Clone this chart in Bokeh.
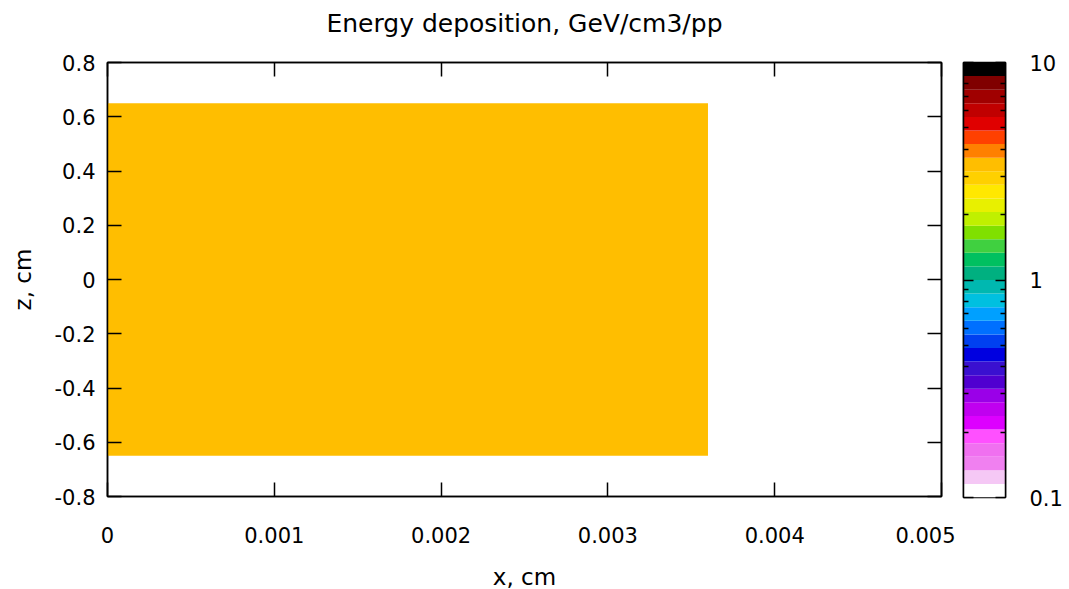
import numpy as np
from bokeh.plotting import figure
from bokeh.layouts import row
from bokeh.models import (LinearAxis, LogAxis, FixedTicker, CustomJSTickFormatter,
                          Range1d, ColumnDataSource)
from bokeh.transform import log_cmap
from bokeh.embed import file_html
from bokeh.resources import INLINE

# ---- data ----
x_left = [0.0]
x_right = [0.0036]
z_bottom = [-0.65]
z_top = [0.65]
edep = [3.4]  # GeV/cm3/pp

x_ticks = [0, 0.001, 0.002, 0.003, 0.004, 0.005]
z_ticks = [-0.8, -0.6, -0.4, -0.2, 0, 0.2, 0.4, 0.6, 0.8]
cb_major = [0.1, 1, 10]
cb_minor = [0.2, 0.3, 0.4, 0.5, 0.6, 0.7, 0.8, 0.9, 2, 3, 4, 5, 6, 7, 8, 9]
title_text = "Energy deposition, GeV/cm3/pp"

# stepped palette, from 0.1 (bottom) to 10 (top)
palette = [
    "#FFFFFF", "#F5C8F5", "#F080F0", "#F070F0", "#FF50FF", "#DD00FF", "#C000F0", "#9A00E8",
    "#5000D0", "#3A10D0", "#0000E0", "#0040F0", "#0070FF", "#00A0FF", "#00C0E0", "#00B8B0",
    "#00B080", "#00C060", "#40D040", "#80E000", "#C0F000", "#E8F000", "#FFE800", "#FFD000",
    "#FFBE00", "#FF8000", "#FF4000", "#E00000", "#C00000", "#A00000", "#800000", "#000000",
]
c_low, c_high = 0.1, 10

FONT = "DejaVu Sans"
TICK_FS = "21px"
LABEL_FS = "23px"
fmt = CustomJSTickFormatter(code="return String(tick);")
blank = CustomJSTickFormatter(code="return '';")

src = ColumnDataSource(dict(left=x_left, right=x_right, bottom=z_bottom, top=z_top, edep=edep))

xr = Range1d(0, 0.005)
yr = Range1d(-0.8, 0.8)
p = figure(frame_width=834, frame_height=434, output_backend="svg", toolbar_location=None,
           x_range=xr, y_range=yr,
           min_border_left=107, min_border_right=14, min_border_top=62, min_border_bottom=92)
p.grid.visible = False
p.outline_line_color = "black"
p.outline_line_width = 1.5
p.background_fill_color = "white"
p.border_fill_color = "white"

p.quad(left="left", right="right", bottom="bottom", top="top", source=src,
       fill_color=log_cmap("edep", palette, c_low, c_high), line_color=None)

def style(ax, labels=True):
    ax.major_tick_in = 14
    ax.major_tick_out = 0
    ax.minor_tick_in = 0
    ax.minor_tick_out = 0
    ax.axis_line_color = "black"
    ax.axis_line_width = 1.5
    ax.major_tick_line_color = "black"
    ax.major_tick_line_width = 1.5
    ax.major_label_text_font = FONT
    ax.major_label_text_font_size = TICK_FS
    ax.major_label_text_color = "black"
    ax.axis_label_text_font = FONT
    ax.axis_label_text_font_size = LABEL_FS
    ax.axis_label_text_font_style = "normal"
    ax.axis_label_text_color = "black"
    ax.formatter = fmt if labels else blank
    if not labels:
        ax.major_label_standoff = 0

xa = p.xaxis[0]
xa.ticker = FixedTicker(ticks=x_ticks)
xa.axis_label = "x, cm"
style(xa)
xa.major_label_standoff = 30
xa.axis_label_standoff = 18

ya = p.yaxis[0]
ya.ticker = FixedTicker(ticks=z_ticks)
ya.axis_label = "z, cm"
style(ya)
ya.major_label_standoff = 12
ya.axis_label_standoff = 16

# top mirror axis; carries the chart title as its label (centred over the frame)
top_ax = LinearAxis(ticker=FixedTicker(ticks=x_ticks), axis_label=title_text)
style(top_ax, labels=False)
top_ax.axis_label_text_font_size = "25px"
top_ax.axis_label_standoff = 25
p.add_layout(top_ax, "above")
right_ax = LinearAxis(ticker=FixedTicker(ticks=z_ticks))
style(right_ax, labels=False)
p.add_layout(right_ax, "right")

# ---- colour bar as its own log-scaled figure ----
edges = np.logspace(np.log10(c_low), np.log10(c_high), len(palette) + 1)
cb_src = ColumnDataSource(dict(bottom=edges[:-1], top=edges[1:], color=palette))
cb = figure(frame_width=42, frame_height=435, output_backend="svg", toolbar_location=None,
            y_axis_type="log", x_range=Range1d(0, 1), y_range=Range1d(c_low, c_high),
            min_border_left=8, min_border_right=50, min_border_top=62, min_border_bottom=88,
            y_axis_location="right")
cb.grid.visible = False
cb.xaxis.visible = False
cb.outline_line_color = "black"
cb.outline_line_width = 1.5
cb.border_fill_color = "white"
cb.quad(left=0, right=1, bottom="bottom", top="top", fill_color="color", line_color=None, source=cb_src)

def cb_style(ax, labels):
    ax.ticker = FixedTicker(ticks=cb_major, minor_ticks=cb_minor)
    ax.formatter = fmt if labels else blank
    ax.major_tick_in = 10
    ax.major_tick_out = 0
    ax.minor_tick_in = 5
    ax.minor_tick_out = 0
    ax.axis_line_color = "black"
    ax.axis_line_width = 1.5
    ax.major_tick_line_color = "black"
    ax.minor_tick_line_color = "black"
    ax.major_tick_line_width = 1.5
    ax.minor_tick_line_width = 1.5
    ax.major_label_text_font = FONT
    ax.major_label_text_color = "black"
    ax.major_label_text_font_size = TICK_FS
    ax.major_label_standoff = 24 if labels else 0

cb_style(cb.yaxis[0], True)
cb_left = LogAxis()
cb_style(cb_left, False)
cb.add_layout(cb_left, "left")

layout = row(p, cb)
open("out.html", "w").write(file_html(layout, INLINE))
